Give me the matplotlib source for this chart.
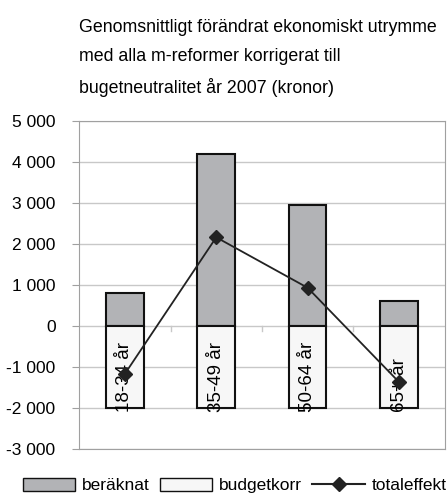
import matplotlib.pyplot as plt
from matplotlib.patches import Patch
from matplotlib.lines import Line2D

plt.rcParams['font.family'] = ['Liberation Sans', 'DejaVu Sans']

grupper = ["18-34 år", "35-49 år", "50-64 år", "65+ år"]
beraknat = [800, 4200, 2960, 610]
budgetkorr = [-2000, -2000, -2000, -2000]
totaleffekt = [-1170, 2160, 930, -1370]

fig = plt.figure(figsize=(4.47, 4.98), dpi=100)
ax = fig.add_axes([0.177, 0.0984, 0.818, 0.659])

x = list(range(len(grupper)))
ax.bar(x, beraknat, width=0.41, color="#b2b3b6", edgecolor="#111111", linewidth=1.5, zorder=2)
ax.bar(x, budgetkorr, width=0.41, color="#f7f7f7", edgecolor="#111111", linewidth=1.5, zorder=2)
ax.plot(x, totaleffekt, color="#222222", lw=1.3, marker="D", markersize=7, zorder=4)

# etiketter inne i staplarna
for i, g in enumerate(grupper):
    ax.text(i, -2110, g, rotation=90, ha="center", va="bottom", fontsize=13.5, zorder=3)

ax.set_xlim(-0.5, 3.5)
ax.set_ylim(-3000, 5000)
ax.set_yticks(range(-3000, 5001, 1000))
ax.set_yticklabels([f"{v:,}".replace(",", " ") for v in range(-3000, 5001, 1000)], fontsize=12.5)
ax.yaxis.grid(True, color="#c8c8c8", lw=1)
ax.set_axisbelow(True)
ax.set_xticks([])
for s in ax.spines.values():
    s.set_color("#a0a0a0")
ax.tick_params(axis="y", length=5, color="#a0a0a0", pad=12)
# små streck mellan kategorierna vid nollan
for b in [0.5, 1.5, 2.5]:
    ax.plot([b, b], [0, -130], color="#c8c8c8", lw=1, zorder=1)

fig.text(0.177, 0.962, "Genomsnittligt förändrat ekonomiskt utrymme\nmed alla m-reformer korrigerat till\nbugetneutralitet år 2007 (kronor)",
         ha="left", va="top", fontsize=12.8, linespacing=1.9)

handles = [Patch(facecolor="#b2b3b6", edgecolor="#111111"),
           Patch(facecolor="#f7f7f7", edgecolor="#111111"),
           Line2D([], [], color="#222222", marker="D", markersize=7)]
fig.legend(handles, ["beräknat", "budgetkorr", "totaleffekt"], loc="lower center",
           bbox_to_anchor=(0.525, -0.022), ncol=3, frameon=False, fontsize=12.5,
           handlelength=3.0, handleheight=0.8, handletextpad=0.4, columnspacing=0.6)

fig.savefig("out.png", dpi=100)
